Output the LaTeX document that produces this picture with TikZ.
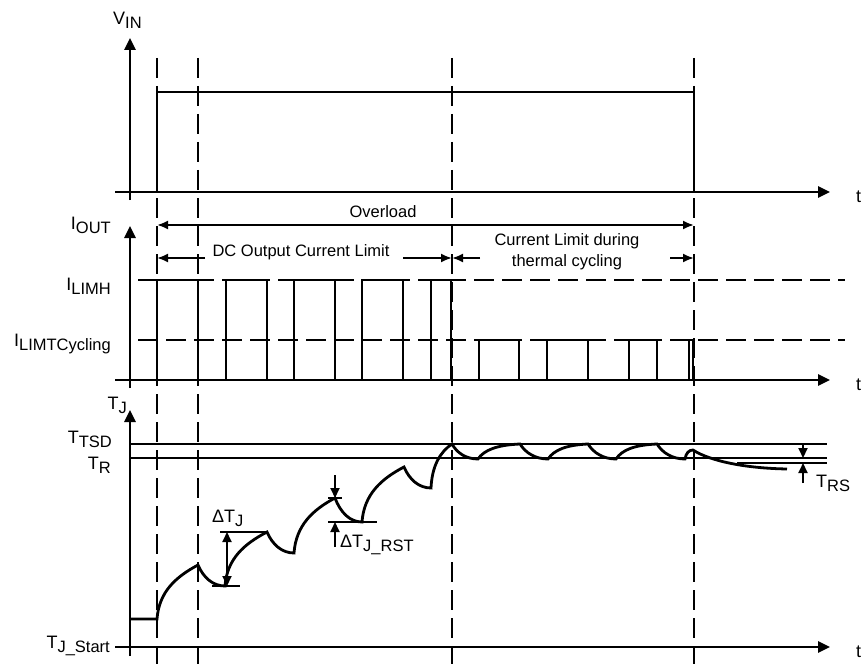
\documentclass[tikz,border=0pt]{standalone}
\usepackage{fontspec}
\setmainfont{Liberation Sans}
\usetikzlibrary{arrows.meta}
\newcommand\lsub[1]{\raisebox{-4pt}{\fontsize{16.5}{18}\selectfont #1}}
\begin{document}
\begin{tikzpicture}[x=1pt,y=-1pt,
  axis/.style={line width=2.6pt,-{Triangle[length=12pt,width=11pt]}},
  sig/.style={line width=2.8pt, line join=miter},
  thinl/.style={line width=2pt},
  guide/.style={line width=2pt, dash pattern=on 20pt off 8pt},
  hguide/.style={line width=2pt, dash pattern=on 20pt off 8pt},
  dim/.style={line width=2pt,-{Latex[length=11pt,width=9pt]}},
  tri/.style={line width=2pt,-{Triangle[length=10pt,width=9pt]}},
  lbl/.style={inner sep=0pt, font=\fontsize{18}{21}\selectfont},
  txt/.style={inner sep=0pt, font=\fontsize{16.5}{21}\selectfont},
]
\useasboundingbox (0,0) rectangle (865,666);

% vertical dashed guides
\foreach \x in {157,198,452,694} \draw[guide] (\x,58) -- (\x,664);

% ---------- V_IN ----------
\draw[axis] (130,200) -- (130,38);
\draw[axis] (115,192) -- (830,192);
\node[lbl, anchor=base west] (vin) at (113,25) {V\lsub{IN}};
\node[lbl, anchor=base west] (t1) at (856,202) {t};
\draw[sig] (157,192) -- (157,92) -- (694,92) -- (694,192);

% ---------- I_OUT ----------
\draw[axis] (130,388) -- (130,226);
\draw[axis] (115,380) -- (830,380);
\node[lbl, anchor=base east] (iout) at (111,229) {I\lsub{OUT}};
\node[lbl, anchor=base east] (ilimh) at (111,290) {I\lsub{LIMH}};
\node[lbl, anchor=base east] (ilimt) at (111,346) {I\lsub{LIMTCycling}};
\node[lbl, anchor=base west] (t2) at (856,390) {t};
\draw[hguide] (138,280) -- (845,280);
\draw[hguide] (138,340) -- (845,340);
\draw[sig] (157,380) -- (157,280) -- (198,280) -- (198,380) -- (226,380) -- (226,280)
  -- (267,280) -- (267,380) -- (294,380) -- (294,280) -- (335,280) -- (335,380)
  -- (362,380) -- (362,280) -- (403,280) -- (403,380) -- (431,380) -- (431,280)
  -- (451,280) -- (451,380) -- (479,380) -- (479,340) -- (519,340) -- (519,380)
  -- (547,380) -- (547,340) -- (588,340) -- (588,380) -- (629,380) -- (629,340)
  -- (657,340) -- (657,380) -- (689,380) -- (689,340) -- (693,340) -- (693,380);

% Overload / current-limit annotations
\coordinate (ovl) at (157,225);
\coordinate (ovr) at (694,225);
\draw[line width=2pt,{Latex[length=11pt,width=9pt]}-{Latex[length=11pt,width=9pt]}] (ovl) -- (ovr);
\node[txt, anchor=base] (ovlabel) at (383,217) {Overload};
\node[txt, anchor=base] (dclabel) at (301,256) {DC Output Current Limit};
\coordinate (dca) at (205,258); \coordinate (dcl) at (157,258);
\coordinate (dcb) at (403,258); \coordinate (dcr) at (452,258);
\draw[dim] (dca) -- (dcl);
\draw[dim] (dcb) -- (dcr);
\node[txt, align=center, anchor=base] (cllabel) at (567,266) {Current Limit during\\thermal cycling};
\coordinate (cla) at (480,258); \coordinate (clb) at (670,258); \coordinate (clr) at (694,258);
\draw[dim] (cla) -- (dcr);
\draw[dim] (clb) -- (clr);

% ---------- T_J ----------
\draw[axis] (130,656) -- (130,410);
\draw[axis] (115,647) -- (830,647);
\node[lbl, anchor=base east] (tj) at (127,409) {T\lsub{J}};
\node[lbl, anchor=base east] (ttsd) at (112,443) {T\lsub{TSD}};
\node[lbl, anchor=base east] (tr) at (111,469) {T\lsub{R}};
\node[lbl, anchor=base east] (tjs) at (110,648) {T\lsub{J\_Start}};
\node[lbl, anchor=base west] (t3) at (856,657) {t};
\draw[thinl] (130,444) -- (827,444);
\draw[thinl] (130,458) -- (827,458);
\draw[thinl] (737,463) -- (827,463);

\draw[sig] (130,619) -- (157,619)
  .. controls (159,592) and (175.5,577) .. (198,565)
  .. controls (203.4,577.6) and (212.9,586) .. (225,586)
  .. controls (227,559) and (244,544) .. (267,532)
  .. controls (272.4,544.6) and (281.9,553) .. (294,553)
  .. controls (296,525.5) and (312.5,510) .. (335,498)
  .. controls (340.4,512.4) and (349.9,522) .. (362,522)
  .. controls (364,494.5) and (381,479) .. (404,467)
  .. controls (409.4,479.6) and (418.9,488) .. (431,488)
  .. controls (432,466) and (440,452) .. (452,444)
  .. controls (457,453) and (466,459) .. (478,459)
  .. controls (484,450) and (497,445) .. (520,444)
  .. controls (525.6,453) and (535.4,459) .. (548,459)
  .. controls (554,450) and (566,445) .. (588,444)
  .. controls (593.6,453) and (603.4,459) .. (616,459)
  .. controls (622,450) and (634,445) .. (657,444)
  .. controls (662.6,453) and (672.4,459) .. (685,459)
  .. controls (686,453) and (689,450) .. (693,450)
  .. controls (705,458) and (735,468) .. (787,469);

% Delta T_J
\draw[thinl] (220,532) -- (267,532);
\draw[sig] (212,586) -- (240,586);
\coordinate (dja) at (227,532); \coordinate (djb) at (227,586);
\draw[line width=2pt,{Triangle[length=10pt,width=9pt]}-{Triangle[length=10pt,width=9pt]}] (dja) -- (djb);
\node[lbl, anchor=base west] (djlabel) at (212,522) {ΔT\lsub{J}};

% Delta T_J_RST
\coordinate (rsa) at (335,475); \coordinate (rsb) at (335,498);
\coordinate (rsc) at (335,547); \coordinate (rsd) at (335,522);
\draw[thinl] (328,498) -- (342,498);
\draw[thinl] (328,522) -- (377,522);
\draw[tri] (rsa) -- (rsb);
\draw[tri] (rsc) -- (rsd);
\node[lbl, anchor=base west] (rstlabel) at (340,547) {ΔT\lsub{J\_RST}};

% T_RS
\coordinate (tra) at (803,444); \coordinate (trb) at (803,458);
\coordinate (trc) at (803,483); \coordinate (trd) at (803,463);
\draw[tri] (tra) -- (trb);
\draw[tri] (trc) -- (trd);
\node[lbl, anchor=base west] (trslabel) at (816,487) {T\lsub{RS}};
\end{tikzpicture}
\end{document}
